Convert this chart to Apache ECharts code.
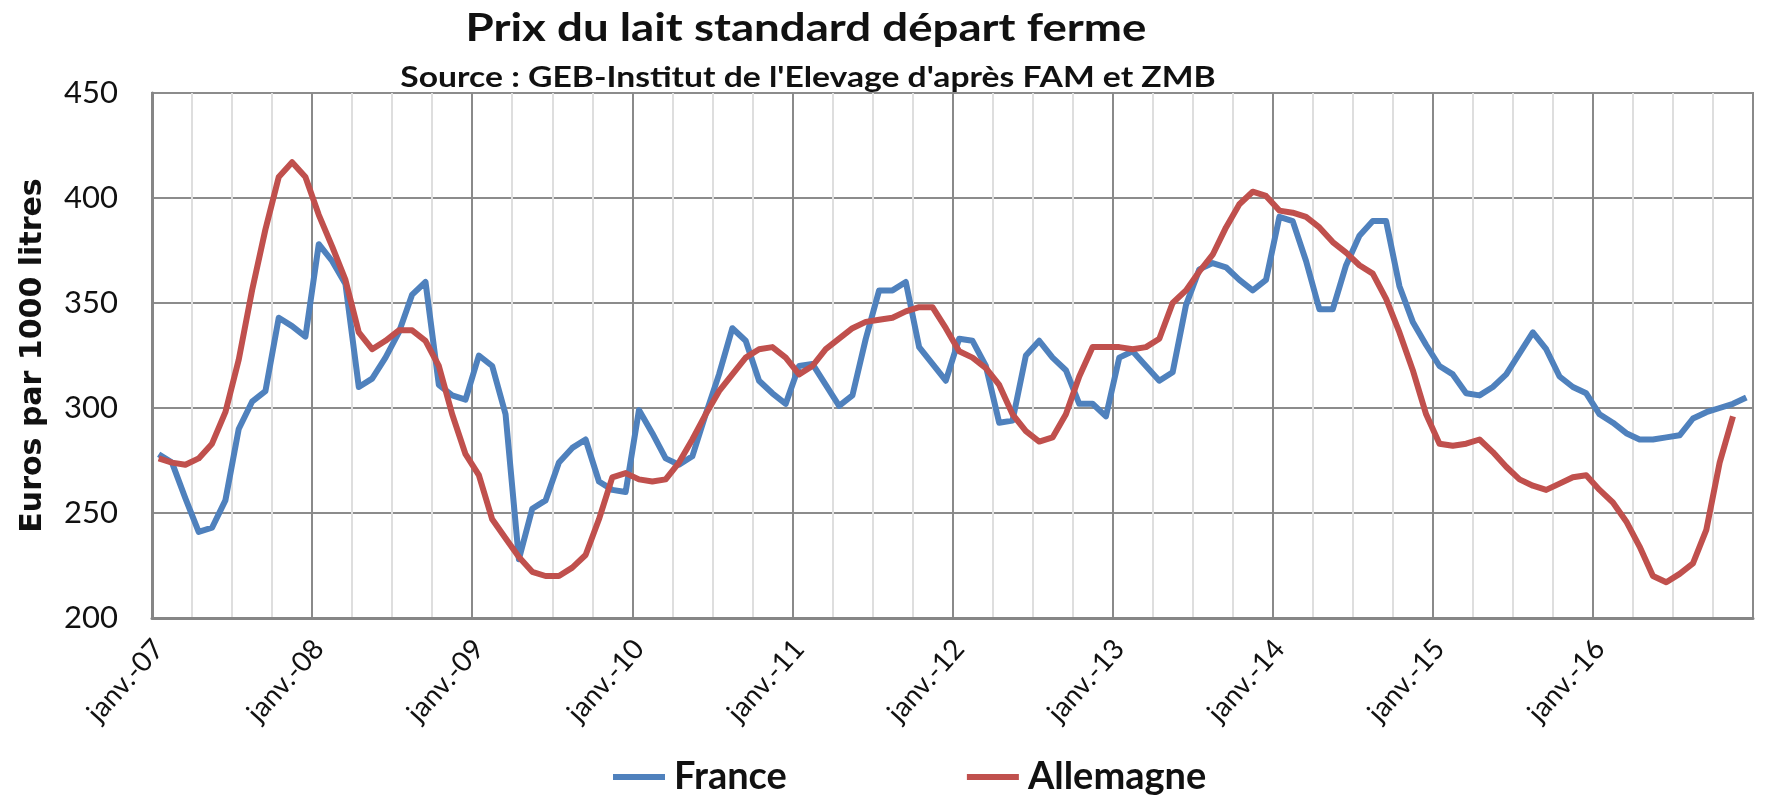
<!DOCTYPE html>
<html>
<head>
<meta charset="utf-8">
<title>Prix du lait standard départ ferme</title>
<script src="https://cdn.jsdelivr.net/npm/echarts@6/dist/echarts.min.js"></script>
<style>
  html, body { margin: 0; padding: 0; background: #fff; }
  #chart { width: 1765px; height: 795px; }
</style>
</head>
<body>
<div id="chart"></div>
<script>
// mois et années de l'axe
var mois = ['janv.', 'févr.', 'mars', 'avr.', 'mai', 'juin', 'juil.', 'août', 'sept.', 'oct.', 'nov.', 'déc.']
var annees = ['07', '08', '09', '10', '11', '12', '13', '14', '15', '16']

var categories = []
annees.forEach(function (a) {
  mois.forEach(function (m) { categories.push(m + '-' + a) })
})

// prix France (euros / 1000 l), janv.-07 -> déc.-16
var france = [
  278, 274, 257, 241, 243, 256, 290, 303, 308, 343, 339, 334,
  378, 370, 359, 310, 314, 324, 336, 354, 360, 311, 306, 304,
  325, 320, 297, 228, 252, 256, 274, 281, 285, 265, 261, 260,
  299, 288, 276, 273, 277, 297, 316, 338, 332, 313, 307, 302,
  320, 321, 311, 301, 306, 333, 356, 356, 360, 329, 321, 313,
  333, 332, 320, 293, 294, 325, 332, 324, 318, 302, 302, 296,
  324, 327, 320, 313, 317, 349, 366, 369, 367, 361, 356, 361,
  391, 389, 370, 347, 347, 368, 382, 389, 389, 358, 341, 330,
  320, 316, 307, 306, 310, 316, 326, 336, 328, 315, 310, 307,
  297, 293, 288, 285, 285, 286, 287, 295, 298, 300, 302, 305
]

// prix Allemagne, janv.-07 -> nov.-16
var allemagne = [
  276, 274, 273, 276, 283, 298, 323, 356, 385, 410, 417, 410,
  392, 377, 361, 336, 328, 332, 337, 337, 332, 320, 297, 278,
  268, 247, 238, 229, 222, 220, 220, 224, 230, 247, 267, 269,
  266, 265, 266, 274, 285, 297, 308, 316, 324, 328, 329, 324,
  316, 320, 328, 333, 338, 341, 342, 343, 346, 348, 348, 338,
  327, 324, 319, 311, 297, 289, 284, 286, 297, 315, 329, 329,
  329, 328, 329, 333, 350, 356, 365, 373, 386, 397, 403, 401,
  394, 393, 391, 386, 379, 374, 368, 364, 352, 336, 318, 297,
  283, 282, 283, 285, 279, 272, 266, 263, 261, 264, 267, 268,
  261, 255, 246, 234, 220, 217, 221, 226, 242, 274, 296
]

var yTicks = [200, 250, 300, 350, 400, 450]

var chart = echarts.init(document.getElementById('chart'))

// une graduation tous les 3 mois, un trait plus foncé en janvier
var tousLes3Mois = function (idx) { return idx % 3 === 0 }

var option = {
  backgroundColor: '#fff',
  animation: false,
  graphic: [
    {
      type: 'text',
      x: 806, y: 9,
      scaleX: 1.17,
      style: {
        text: 'Prix du lait standard départ ferme',
        font: 'bold 39px Lato',
        fill: '#111',
        textAlign: 'center'
      }
    },
    {
      type: 'text',
      x: 808, y: 63,
      scaleX: 1.16,
      style: {
        text: "Source : GEB-Institut de l'Elevage d'après FAM et ZMB",
        font: 'bold 29px Lato',
        fill: '#111',
        textAlign: 'center'
      }
    }
  ],
  legend: {
    left: 608,
    top: 753,
    icon: 'rect',
    itemWidth: 52,
    itemHeight: 6,
    itemGap: 180,
    textStyle: {
      fontFamily: 'Lato',
      fontWeight: 'bold',
      fontSize: 38,
      color: '#111',
      padding: [0, 0, 0, 4]
    },
    data: ['France', 'Allemagne']
  },
  grid: {
    left: 152,
    right: 12,
    top: 93,
    bottom: 177,
    show: true,
    borderColor: '#8a8a8a',
    borderWidth: 2
  },
  xAxis: {
    type: 'category',
    data: categories,
    boundaryGap: true,
    axisLine: { lineStyle: { color: '#868686', width: 3 } },
    axisTick: {
      interval: tousLes3Mois,
      length: 10,
      lineStyle: { color: '#868686', width: 2 }
    },
    axisLabel: {
      interval: 11,
      rotate: 48,
      margin: 26,
      fontFamily: 'Lato',
      fontSize: 28,
      color: '#111'
    },
    splitLine: {
      show: true,
      interval: tousLes3Mois,
      lineStyle: {
        color: ['#8a8a8a', '#dedede', '#dedede', '#dedede'],
        width: 2
      }
    }
  },
  yAxis: {
    type: 'value',
    min: yTicks[0],
    max: yTicks[yTicks.length - 1],
    interval: 50,
    name: 'Euros par 1000 litres',
    nameLocation: 'middle',
    nameRotate: 90,
    nameGap: 104,
    nameTextStyle: {
      fontFamily: 'DejaVu Sans',
      fontWeight: 'bold',
      fontSize: 30,
      color: '#111'
    },
    axisLine: { show: true, lineStyle: { color: '#868686', width: 3 } },
    axisTick: { show: false },
    axisLabel: {
      margin: 34,
      fontFamily: 'Lato',
      fontSize: 31,
      color: '#111'
    },
    splitLine: { lineStyle: { color: '#8c8c8c', width: 2 } }
  },
  series: [
    {
      name: 'France',
      type: 'line',
      data: france,
      symbol: 'none',
      lineStyle: { color: '#4f81bd', width: 6, join: 'round' },
      itemStyle: { color: '#4f81bd' }
    },
    {
      name: 'Allemagne',
      type: 'line',
      data: allemagne,
      symbol: 'none',
      lineStyle: { color: '#c0504d', width: 6, join: 'round' },
      itemStyle: { color: '#c0504d' }
    }
  ]
}

chart.setOption(option)
</script>
</body>
</html>
